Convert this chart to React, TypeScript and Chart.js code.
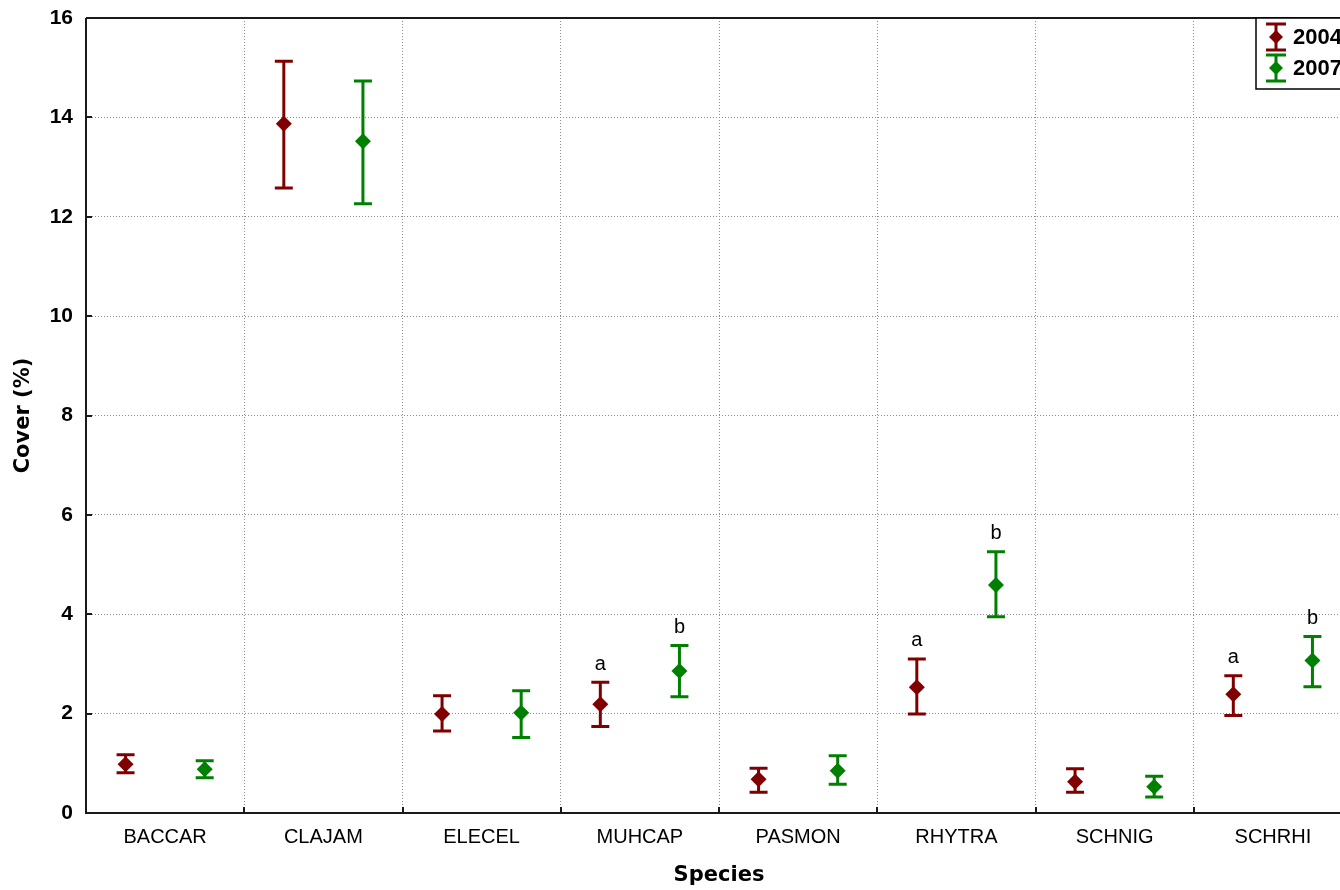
import React, { useEffect, useRef } from "react";
import { Chart, registerables } from "chart.js";

Chart.register(...registerables);

const species = ["BACCAR", "CLAJAM", "ELECEL", "MUHCAP", "PASMON", "RHYTRA", "SCHNIG", "SCHRHI"];
const years = ["2004", "2007"];
const mean2004 = [0.98, 13.87, 1.99, 2.19, 0.68, 2.53, 0.63, 2.39];
const upper2004 = [1.17, 15.13, 2.36, 2.63, 0.9, 3.1, 0.89, 2.76];
const lower2004 = [0.81, 12.58, 1.65, 1.74, 0.42, 1.99, 0.42, 1.96];
const mean2007 = [0.88, 13.52, 2.02, 2.86, 0.85, 4.59, 0.53, 3.07];
const upper2007 = [1.05, 14.73, 2.46, 3.37, 1.15, 5.26, 0.74, 3.55];
const lower2007 = [0.71, 12.26, 1.52, 2.34, 0.58, 3.95, 0.32, 2.54];
const letters2004 = ["", "", "", "a", "", "a", "", "a"];
const letters2007 = ["", "", "", "b", "", "b", "", "b"];
const yMin = 0;
const yMax = 16;
const yStep = 2;

const colors = ["#800000", "#008000"];
const offsets = [0.25, 0.75];

const W = 1360;
const H = 890;

const errorBarPlugin = {
  id: "errorBars",
  beforeDatasetsDraw(chart: any) {
    const { ctx, scales } = chart;
    const xs = scales.x;
    const ys = scales.y;
    const area = chart.chartArea;
    ctx.save();
    ctx.strokeStyle = "#1a1a1a";
    ctx.lineWidth = 2;
    ctx.beginPath();
    ctx.moveTo(area.left, area.top);
    ctx.lineTo(area.right, area.top);
    ctx.moveTo(area.left, area.top);
    ctx.lineTo(area.left, area.bottom);
    ctx.lineTo(area.right, area.bottom);
    ctx.lineTo(area.right, area.top);
    ctx.stroke();
    for (let v = yMin; v <= yMax; v += yStep) {
      const py = Math.round(ys.getPixelForValue(v));
      ctx.beginPath();
      ctx.moveTo(area.left, py);
      ctx.lineTo(area.left + 6, py);
      ctx.stroke();
    }
    for (let i = 0; i <= species.length; i++) {
      const px = Math.round(xs.getPixelForValue(i));
      ctx.beginPath();
      ctx.moveTo(px, area.bottom);
      ctx.lineTo(px, area.bottom - 6);
      ctx.stroke();
    }
    ctx.restore();

    chart.data.datasets.forEach((ds: any) => {
      ctx.save();
      ctx.strokeStyle = ds.borderColor;
      ctx.lineWidth = 3;
      ds.data.forEach((d: any) => {
        const px = xs.getPixelForValue(d.x);
        const pu = ys.getPixelForValue(d.hi);
        const pl = ys.getPixelForValue(d.lo);
        ctx.beginPath();
        ctx.moveTo(px, pu);
        ctx.lineTo(px, pl);
        ctx.moveTo(px - 9, pu);
        ctx.lineTo(px + 9, pu);
        ctx.moveTo(px - 9, pl);
        ctx.lineTo(px + 9, pl);
        ctx.stroke();
      });
      ctx.restore();
    });
  },
  afterDraw(chart: any) {
    const { ctx, scales } = chart;
    const xs = scales.x;
    const ys = scales.y;
    ctx.save();
    ctx.fillStyle = "#000";
    ctx.font = '20px "Liberation Sans", Arial, sans-serif';
    ctx.textAlign = "center";
    ctx.textBaseline = "middle";
    chart.data.datasets.forEach((ds: any) => {
      ds.data.forEach((d: any) => {
        if (!d.letter) return;
        const px = xs.getPixelForValue(d.x);
        const pu = ys.getPixelForValue(d.hi);
        ctx.fillText(d.letter, px, pu - 18);
      });
    });
    const lx = 1256;
    const ly = 18;
    ctx.fillStyle = "#fff";
    ctx.fillRect(lx, ly, 200, 71);
    ctx.strokeStyle = "#000";
    ctx.lineWidth = 1.5;
    ctx.strokeRect(lx, ly, 200, 71);
    ctx.font = 'bold 22px "Liberation Sans", Arial, sans-serif';
    ctx.textAlign = "left";
    chart.data.datasets.forEach((ds: any, i: number) => {
      const cy = 37 + i * 31;
      const cx = 1276;
      ctx.strokeStyle = ds.borderColor;
      ctx.fillStyle = ds.borderColor;
      ctx.lineWidth = 3;
      ctx.beginPath();
      ctx.moveTo(cx, cy - 13);
      ctx.lineTo(cx, cy + 13);
      ctx.moveTo(cx - 10, cy - 13);
      ctx.lineTo(cx + 10, cy - 13);
      ctx.moveTo(cx - 10, cy + 13);
      ctx.lineTo(cx + 10, cy + 13);
      ctx.stroke();
      ctx.beginPath();
      ctx.moveTo(cx - 7, cy);
      ctx.lineTo(cx, cy - 7);
      ctx.lineTo(cx + 7, cy);
      ctx.lineTo(cx, cy + 7);
      ctx.closePath();
      ctx.fill();
      ctx.fillStyle = "#000";
      ctx.fillText(ds.label, 1293, cy + 1);
    });
    ctx.restore();
  },
};

export default function App() {
  const ref = useRef<HTMLCanvasElement | null>(null);

  useEffect(() => {
    if (!ref.current) return;
    const means = [mean2004, mean2007];
    const uppers = [upper2004, upper2007];
    const lowers = [lower2004, lower2007];
    const letters = [letters2004, letters2007];
    const datasets = years.map((y, k) => ({
      label: y,
      data: species.map((_, i) => ({
        x: i + offsets[k],
        y: means[k][i],
        hi: uppers[k][i],
        lo: lowers[k][i],
        letter: letters[k][i],
      })),
      borderColor: colors[k],
      backgroundColor: colors[k],
      pointStyle: "rectRot",
      pointRadius: 8,
      pointBorderWidth: 0,
      showLine: false,
    }));

    const chart = new Chart(ref.current, {
      type: "scatter",
      data: { datasets } as any,
      options: {
        responsive: false,
        animation: false,
        devicePixelRatio: 1,
        layout: { padding: { top: 18, right: 3, left: 0, bottom: 0 } },
        plugins: {
          legend: { display: false },
          tooltip: { enabled: false },
        },
        scales: {
          x: {
            type: "linear",
            position: "bottom",
            min: 0,
            max: species.length,
            afterBuildTicks: (s: any) => {
              s.ticks = species.map((_, i) => ({ value: i + 0.5 }));
            },
            afterFit: (s: any) => {
              s.height = 77;
              s.paddingLeft = 0;
              s.paddingRight = 0;
            },
            ticks: {
              callback: (v: any) => species[Math.floor(Number(v))],
              autoSkip: false,
              maxRotation: 0,
              color: "#000",
              padding: 12,
              font: { family: '"Liberation Sans", Arial, sans-serif', size: 20 },
            },
            grid: { display: false, drawTicks: false },
            border: { display: false },
            title: {
              display: true,
              text: "Species",
              color: "#000",
              font: { family: '"DejaVu Sans", sans-serif', size: 21, weight: "bold" },
              padding: { top: 0, bottom: 2 },
            },
          },
          xg: {
            type: "linear",
            position: "bottom",
            min: 0,
            max: species.length,
            afterBuildTicks: (s: any) => {
              s.ticks = Array.from({ length: species.length + 1 }, (_, i) => ({ value: i }));
            },
            afterFit: (s: any) => {
              s.height = 0;
              s.paddingLeft = 0;
              s.paddingRight = 0;
            },
            ticks: { display: false },
            grid: { color: "#8c8c8c", lineWidth: 1, drawTicks: false },
            border: { display: false, dash: [1, 2] },
          },
          y: {
            type: "linear",
            min: yMin,
            max: yMax,
            afterFit: (s: any) => {
              s.width = 86;
              s.paddingTop = 0;
              s.paddingBottom = 0;
            },
            ticks: {
              stepSize: yStep,
              color: "#000",
              padding: 13,
              font: { family: '"Liberation Sans", Arial, sans-serif', size: 21, weight: "bold" },
            },
            grid: { color: "#8c8c8c", lineWidth: 1, drawTicks: false },
            border: { display: false, dash: [1, 2] },
            title: {
              display: true,
              text: "Cover (%)",
              color: "#000",
              font: { family: '"DejaVu Sans", sans-serif', size: 21, weight: "bold" },
              padding: { top: 11, bottom: 0 },
            },
          },
        },
      } as any,
      plugins: [errorBarPlugin],
    });
    return () => chart.destroy();
  }, []);

  return (
    <div
      style={{
        position: "absolute",
        left: 0,
        top: 0,
        width: 1340,
        height: 890,
        overflow: "hidden",
        background: "#fff",
      }}
    >
      <canvas ref={ref} width={W} height={H} style={{ width: W, height: H, display: "block" }} />
    </div>
  );
}
